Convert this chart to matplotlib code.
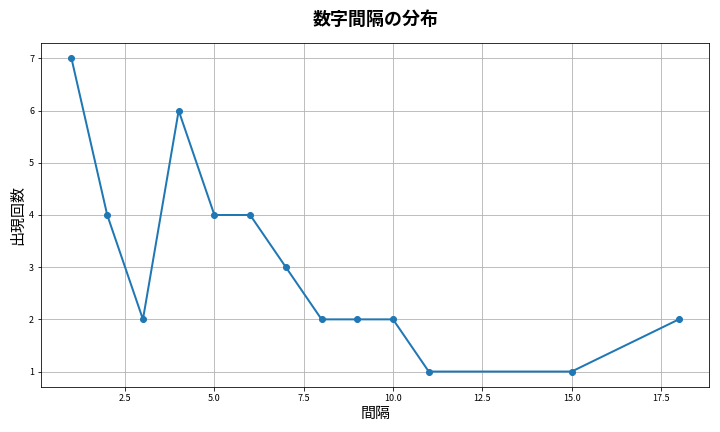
import matplotlib
matplotlib.use("Agg")
import matplotlib.pyplot as plt

plt.rcParams['font.family'] = ['Noto Sans CJK JP', 'DejaVu Sans']

gaps = [1, 2, 3, 4, 5, 6, 7, 8, 9, 10, 11, 15, 18]
counts = [7, 4, 2, 6, 4, 4, 3, 2, 2, 2, 1, 1, 2]

fig, ax = plt.subplots(figsize=(10, 6), dpi=72)
ax.plot(gaps, counts, marker='o', color='#1f77b4', linewidth=2, markersize=6)
ax.set_title('数字間隔の分布', fontsize=18, fontweight='bold', pad=18)
ax.set_xlabel('間隔', fontsize=15)
ax.set_ylabel('出現回数', fontsize=15)
ax.tick_params(labelsize=9)
ax.grid(True)
fig.tight_layout()
fig.savefig('out.png')
